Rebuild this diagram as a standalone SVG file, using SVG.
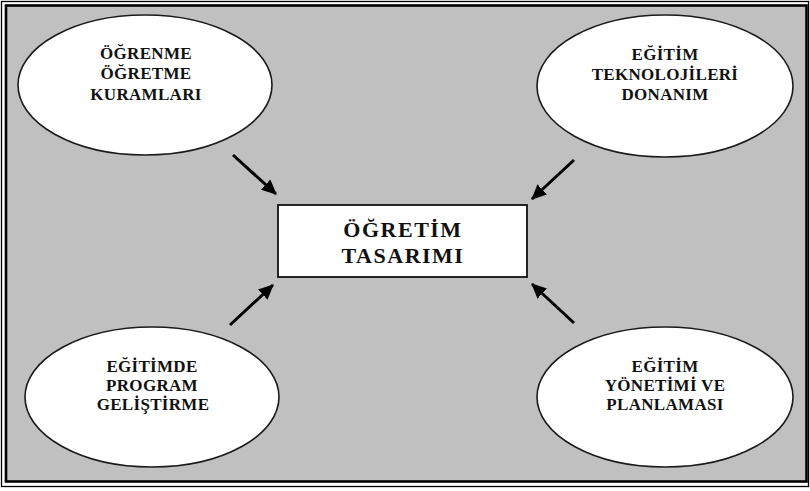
<svg xmlns="http://www.w3.org/2000/svg" width="810" height="491" viewBox="0 0 810 491">
  <style>
    .bubble { fill: #ffffff; stroke: #1a1a1a; stroke-width: 1.6; }
    .label { font-family: "Liberation Serif", "Times New Roman", serif; font-weight: bold; font-size: 17px; fill: #111; text-anchor: middle; letter-spacing: 0.3px; }
    .title { font-family: "Liberation Serif", "Times New Roman", serif; font-weight: bold; font-size: 22px; fill: #111; text-anchor: middle; letter-spacing: 1.5px; }
    .link { stroke: #000; stroke-width: 3; fill: none; marker-end: url(#head); }
  </style>
  <defs>
    <marker id="head" markerUnits="userSpaceOnUse" markerWidth="16" markerHeight="14" refX="14" refY="7" orient="auto">
      <path d="M0,0 L15,7 L0,14 Z" fill="#000"/>
    </marker>
  </defs>

  <!-- page background and double frame -->
  <rect x="0" y="0" width="810" height="491" fill="#ffffff"/>
  <rect x="1.5" y="1.5" width="807" height="485" fill="none" stroke="#000" stroke-width="1.3"/>
  <rect x="6" y="5.5" width="800.5" height="476" fill="#c0c0c0" stroke="#000" stroke-width="2.6"/>

  <!-- connectors -->
  <g id="connectors">
    <line class="link" x1="233" y1="155" x2="276" y2="194"/>
    <line class="link" x1="574" y1="160" x2="532" y2="199"/>
    <line class="link" x1="230" y1="325" x2="273" y2="285"/>
    <line class="link" x1="574" y1="323" x2="532" y2="284"/>
  </g>

  <!-- centre box -->
  <g id="ogretim-tasarimi">
    <rect x="278" y="205" width="249" height="72" fill="#ffffff" stroke="#111" stroke-width="1.8"/>
    <text class="title" x="403" y="237">ÖĞRETİM</text>
    <text class="title" x="403" y="263">TASARIMI</text>
  </g>

  <g id="ogrenme-ogretme-kuramlari">
    <ellipse class="bubble" cx="145" cy="85" rx="127" ry="70"/>
    <text class="label" x="146" y="59">ÖĞRENME</text>
    <text class="label" x="146" y="79">ÖĞRETME</text>
    <text class="label" x="146" y="100">KURAMLARI</text>
  </g>

  <g id="egitim-teknolojileri-donanim">
    <ellipse class="bubble" cx="665" cy="86" rx="128" ry="71"/>
    <text class="label" x="665" y="60">EĞİTİM</text>
    <text class="label" x="665" y="80">TEKNOLOJİLERİ</text>
    <text class="label" x="665" y="100">DONANIM</text>
  </g>

  <g id="egitimde-program-gelistirme">
    <ellipse class="bubble" cx="152" cy="397" rx="127" ry="70"/>
    <text class="label" x="152" y="372">EĞİTİMDE</text>
    <text class="label" x="152" y="391">PROGRAM</text>
    <text class="label" x="153" y="410">GELİŞTİRME</text>
  </g>

  <g id="egitim-yonetimi-planlamasi">
    <ellipse class="bubble" cx="665" cy="397" rx="128" ry="70"/>
    <text class="label" x="665" y="372">EĞİTİM</text>
    <text class="label" x="665" y="391">YÖNETİMİ VE</text>
    <text class="label" x="665" y="410">PLANLAMASI</text>
  </g>
</svg>
